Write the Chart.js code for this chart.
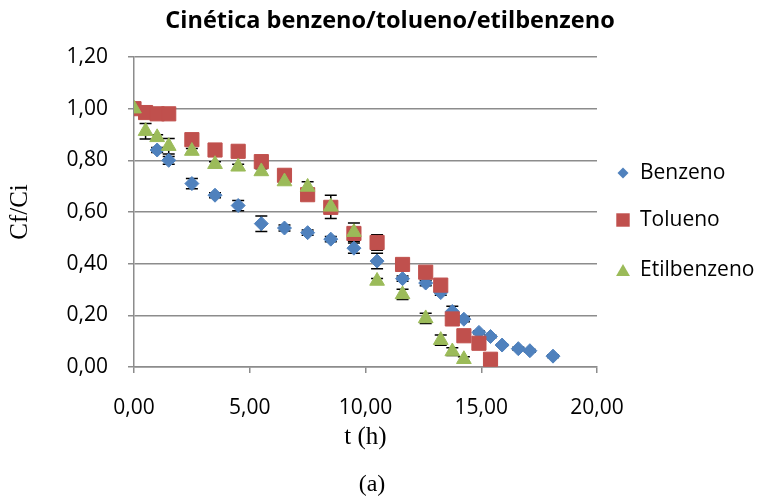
<!DOCTYPE html>
<html>
<head>
<meta charset="utf-8">
<script src="https://cdn.jsdelivr.net/npm/chart.js@4.4.1/dist/chart.umd.min.js"></script>
<style>
  html, body { margin: 0; padding: 0; background: #ffffff; }
  #wrap { width: 768px; height: 499px; }
</style>
</head>
<body>
<div id="wrap"><canvas id="c" width="768" height="499"></canvas></div>
<script>
// Cinética benzeno/tolueno/etilbenzeno — Cf/Ci versus t (h)
const chartTitle = 'Cinética benzeno/tolueno/etilbenzeno';
const seriesNames = ['Benzeno', 'Tolueno', 'Etilbenzeno'];

const benzenoT = [0, 1, 1.5, 2.5, 3.5, 4.5, 5.5, 6.5, 7.5, 8.5, 9.5, 10.5, 11.6, 12.6, 13.25, 13.75, 14.25, 14.9, 15.4, 15.9, 16.6, 17.1, 18.1];
const benzenoC = [1.00, 0.84, 0.80, 0.71, 0.665, 0.625, 0.555, 0.538, 0.52, 0.495, 0.46, 0.41, 0.342, 0.325, 0.288, 0.215, 0.185, 0.134, 0.118, 0.085, 0.071, 0.063, 0.042];
const benzenoErr = [0, 0.01, 0.015, 0.02, 0.01, 0.02, 0.03, 0.012, 0.01, 0.01, 0.02, 0.03, 0.01, 0.01, 0.01, 0.02, 0.01, 0.005, 0.005, 0.005, 0.005, 0.005, 0.005];

const toluenoT = [0, 0.5, 1, 1.5, 2.5, 3.5, 4.5, 5.5, 6.5, 7.5, 8.5, 9.5, 10.5, 11.6, 12.6, 13.25, 13.75, 14.25, 14.9, 15.4];
const toluenoC = [1.00, 0.985, 0.98, 0.98, 0.88, 0.84, 0.835, 0.795, 0.742, 0.667, 0.618, 0.517, 0.482, 0.397, 0.367, 0.317, 0.186, 0.121, 0.092, 0.03];
const toluenoErr = [0, 0.005, 0.005, 0.005, 0.005, 0.005, 0.005, 0.005, 0.005, 0.005, 0.01, 0.01, 0.03, 0.005, 0.005, 0.005, 0.005, 0.005, 0.005, 0.005];

const etilT = [0, 0.5, 1, 1.5, 2.5, 3.5, 4.5, 5.5, 6.5, 7.5, 8.5, 9.5, 10.5, 11.6, 12.6, 13.25, 13.75, 14.25];
const etilC = [1.00, 0.913, 0.889, 0.855, 0.836, 0.785, 0.775, 0.757, 0.718, 0.697, 0.62, 0.522, 0.333, 0.281, 0.188, 0.104, 0.06, 0.03];
const etilErr = [0, 0.03, 0.01, 0.03, 0.01, 0.01, 0.01, 0.01, 0.01, 0.02, 0.045, 0.035, 0.01, 0.02, 0.02, 0.02, 0.015, 0.01];

const xTickLabels = ['0,00', '5,00', '10,00', '15,00', '20,00'];
const yTickLabels = ['0,00', '0,20', '0,40', '0,60', '0,80', '1,00', '1,20'];

const colors = ['#4F81BD', '#C0504D', '#9BBB59'];
const styles = ['rectRot', 'rect', 'triangle'];
const radii = [7, 10, 8.5];
const legendRadii = [5.5, 9.5, 8];

const SANS = "'Open Sans', sans-serif";
const SERIF = "'Liberation Serif', 'Times New Roman', serif";
const GRID = '#8c8c8c';

function points(ts, cs) {
  return ts.map((t, i) => ({ x: t, y: cs[i] }));
}

const allT = [benzenoT, toluenoT, etilT];
const allC = [benzenoC, toluenoC, etilC];
const allErr = [benzenoErr, toluenoErr, etilErr];

// later series are painted over earlier ones
const datasets = seriesNames.map((name, k) => ({
  label: name,
  data: points(allT[k], allC[k]),
  errors: allErr[k],
  order: seriesNames.length - k,
  showLine: false,
  pointStyle: styles[k],
  pointRadius: radii[k],
  pointHoverRadius: radii[k],
  pointBackgroundColor: colors[k],
  pointBorderColor: colors[k],
  pointBorderWidth: 1,
  backgroundColor: colors[k],
  borderColor: colors[k]
}));

// vertical error bars with caps, drawn beneath the markers
const errorBars = {
  id: 'errorBars',
  beforeDatasetsDraw(chart) {
    const ctx = chart.ctx;
    const ys = chart.scales.y;
    ctx.save();
    ctx.strokeStyle = '#000000';
    ctx.lineWidth = 1.5;
    chart.data.datasets.forEach((ds, di) => {
      const meta = chart.getDatasetMeta(di);
      meta.data.forEach((pt, i) => {
        const e = ds.errors[i];
        if (!e) return;
        const v = ds.data[i].y;
        const top = ys.getPixelForValue(v + e);
        const bot = ys.getPixelForValue(v - e);
        const x = pt.x;
        ctx.beginPath();
        ctx.moveTo(x, top); ctx.lineTo(x, bot);
        ctx.moveTo(x - 6, top); ctx.lineTo(x + 6, top);
        ctx.moveTo(x - 6, bot); ctx.lineTo(x + 6, bot);
        ctx.stroke();
      });
    });
    ctx.restore();
  }
};

function drawMarker(ctx, style, r, x, y) {
  ctx.beginPath();
  if (style === 'rectRot') {
    ctx.moveTo(x - r, y); ctx.lineTo(x, y - r); ctx.lineTo(x + r, y); ctx.lineTo(x, y + r);
  } else if (style === 'rect') {
    const s = r * Math.SQRT1_2;
    ctx.rect(x - s, y - s, 2 * s, 2 * s);
  } else {
    ctx.moveTo(x, y - r);
    ctx.lineTo(x + r * Math.sin(2 * Math.PI / 3), y - r * Math.cos(2 * Math.PI / 3));
    ctx.lineTo(x + r * Math.sin(4 * Math.PI / 3), y - r * Math.cos(4 * Math.PI / 3));
  }
  ctx.closePath();
  ctx.fill();
}

// heading, series key on the right and the "(a)" caption below the axis
const annotations = {
  id: 'annotations',
  afterDraw(chart) {
    const ctx = chart.ctx;
    const area = chart.chartArea;
    const rows = [173, 220, 270];
    ctx.save();
    ctx.fillStyle = '#000000';
    ctx.font = 'bold 23.5px ' + SANS;
    ctx.textAlign = 'center';
    ctx.textBaseline = 'middle';
    ctx.fillText(chartTitle, 390, 21);

    ctx.font = '21px ' + SANS;
    ctx.textAlign = 'left';
    chart.data.datasets.forEach((ds, k) => {
      const mx = area.right + 26;
      const yy = rows[k];
      ctx.fillStyle = colors[k];
      drawMarker(ctx, styles[k], legendRadii[k], mx, yy + (styles[k] === 'triangle' ? 2 : 0));
      ctx.fillStyle = '#000000';
      ctx.fillText(ds.label, area.right + 43, yy);
    });
    ctx.font = '24px ' + SERIF;
    ctx.textAlign = 'center';
    ctx.fillText('(a)', 372, 485);
    ctx.restore();
  }
};

new Chart(document.getElementById('c'), {
  type: 'scatter',
  data: { datasets },
  plugins: [errorBars, annotations],
  options: {
    responsive: false,
    animation: false,
    devicePixelRatio: 1,
    layout: { padding: { left: 0, right: 171, top: 57, bottom: 0 } },
    plugins: {
      legend: { display: false },
      tooltip: { enabled: false },
      title: { display: false }
    },
    scales: {
      x: {
        type: 'linear',
        min: 0, max: 20,
        afterFit(scale) { scale.height = 132; },
        afterBuildTicks(scale) {
          scale.ticks = xTickLabels.map((_, i) => ({ value: i * 5 }));
        },
        ticks: {
          color: '#000000',
          font: { family: SANS, size: 21 },
          padding: 22,
          maxRotation: 0,
          callback: (v, i) => xTickLabels[i]
        },
        grid: { drawOnChartArea: false, color: GRID, tickColor: GRID, tickLength: 6, lineWidth: 1.5 },
        border: { display: true, color: GRID, width: 1.5 },
        title: {
          display: true,
          text: 't (h)',
          color: '#000000',
          font: { family: SERIF, size: 25, lineHeight: 1.2 },
          padding: { top: 47, bottom: 47 }
        }
      },
      y: {
        type: 'linear',
        min: 0, max: 1.2,
        afterFit(scale) { scale.width = 134; },
        afterBuildTicks(scale) {
          scale.ticks = yTickLabels.map((_, i) => ({ value: i * 0.2 }));
        },
        ticks: {
          color: '#000000',
          font: { family: SANS, size: 21 },
          padding: 20,
          callback: (v, i) => yTickLabels[i]
        },
        grid: { color: GRID, tickColor: GRID, tickLength: 6, lineWidth: 1.5 },
        border: { display: true, color: GRID, width: 1.5 },
        title: {
          display: true,
          text: 'Cf/Ci',
          color: '#000000',
          font: { family: SERIF, size: 25, lineHeight: 1.2 },
          padding: { top: 5, bottom: 5 }
        }
      }
    }
  }
});
</script>
</body>
</html>
